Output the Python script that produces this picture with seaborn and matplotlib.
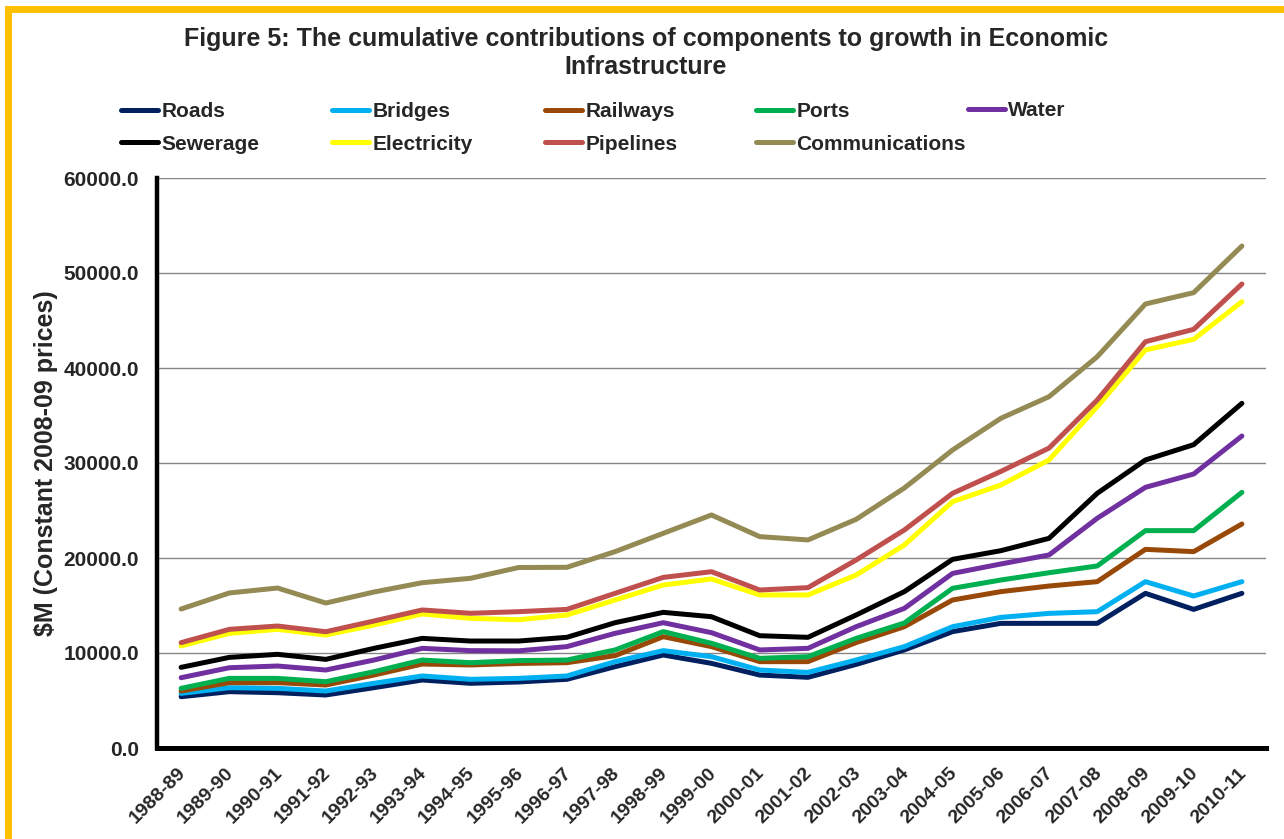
import numpy as np
import pandas as pd
import matplotlib
matplotlib.use("Agg")
import matplotlib.pyplot as plt
import matplotlib.transforms as mtransforms
import seaborn as sns
from matplotlib.patches import Rectangle
from matplotlib.ticker import FixedLocator, FuncFormatter

# ---- data ($M, constant 2008-09 prices, cumulative) ----
years = ["1988-89", "1989-90", "1990-91", "1991-92", "1992-93", "1993-94",
         "1994-95", "1995-96", "1996-97", "1997-98", "1998-99", "1999-00",
         "2000-01", "2001-02", "2002-03", "2003-04", "2004-05", "2005-06",
         "2006-07", "2007-08", "2008-09", "2009-10", "2010-11"]

roads = [5400, 5930, 5820, 5580, 6350, 7160, 6810, 6950, 7230, 8560, 9790, 8910,
         7680, 7440, 8800, 10320, 12250, 13120, 13120, 13120, 16280, 14590, 16280]
bridges = [5750, 6350, 6280, 6000, 6810, 7580, 7230, 7330, 7580, 9090, 10250, 9610,
           8210, 7960, 9260, 10670, 12770, 13750, 14170, 14350, 17510, 16000, 17510]
railways = [6000, 6880, 6880, 6630, 7680, 8840, 8740, 8900, 8980, 9720, 11720, 10670,
            9090, 9090, 11100, 12770, 15580, 16460, 17050, 17510, 20910, 20670, 23580]
ports = [6280, 7330, 7330, 6980, 8030, 9260, 8980, 9200, 9260, 10320, 12250, 11020,
         9440, 9610, 11540, 13160, 16810, 17680, 18450, 19160, 22880, 22880, 26910]
water = [7400, 8450, 8630, 8210, 9260, 10490, 10250, 10230, 10670, 12070, 13190, 12140,
         10320, 10490, 12770, 14700, 18380, 19370, 20320, 24180, 27440, 28840, 32840]
sewerage = [8490, 9540, 9860, 9330, 10490, 11540, 11260, 11260, 11650, 13190, 14280, 13820,
            11820, 11650, 14000, 16460, 19860, 20770, 22070, 26810, 30320, 31930, 36280]
electricity = [10740, 12070, 12490, 11890, 12950, 14110, 13650, 13500, 14000, 15580, 17160, 17790,
               16110, 16110, 18210, 21370, 25930, 27680, 30320, 35930, 41900, 43020, 46980]
pipelines = [11090, 12490, 12840, 12240, 13370, 14530, 14180, 14350, 14590, 16280, 17960, 18560,
             16630, 16880, 19790, 22950, 26810, 29110, 31570, 36630, 42770, 44070, 48840]
communications = [14630, 16320, 16840, 15260, 16420, 17400, 17860, 19000, 19020, 20670, 22600, 24530,
                  22250, 21900, 24070, 27370, 31370, 34700, 36980, 41190, 46740, 47930, 52840]

components = ["Roads", "Bridges", "Railways", "Ports", "Water",
              "Sewerage", "Electricity", "Pipelines", "Communications"]
series = [roads, bridges, railways, ports, water,
          sewerage, electricity, pipelines, communications]
colors = ["#002060", "#00B0F0", "#984807", "#00B050", "#7030A0",
          "#000000", "#FFFF00", "#C0504D", "#948A54"]

rows = []
for name, vals in zip(components, series):
    for i, v in enumerate(vals):
        rows.append({"idx": i, "year": years[i], "component": name, "value": v})
df = pd.DataFrame(rows)

# ---- styling ----
sns.set_style("white")
plt.rcParams["font.family"] = ["Liberation Sans", "DejaVu Sans"]
plt.rcParams["font.weight"] = "bold"

W, H = 1284, 839
fig = plt.figure(figsize=(W / 100, H / 100), dpi=100)
ax = fig.add_axes([157 / W, 1 - 748 / H, (1266 - 157) / W, (748 - 178) / H])

sns.lineplot(data=df, x="idx", y="value", hue="component", hue_order=components,
             palette=dict(zip(components, colors)), linewidth=3.6, legend=False,
             ax=ax, sort=False)
for ln in ax.lines:
    ln.set_solid_capstyle("round")
    ln.set_solid_joinstyle("round")

ax.set_xlim(-0.5, len(years) - 0.5)
ax.set_ylim(0, 60000)

# y axis
ax.set_yticks(np.arange(0, 60001, 10000))
ax.yaxis.set_major_formatter(FuncFormatter(lambda v, p: f"{v:.1f}"))
ax.tick_params(axis="y", direction="out", length=7, width=3, labelsize=15, pad=6)
ax.yaxis.grid(True, color="#868686", linewidth=1.0)
ax.set_axisbelow(True)

# x axis: labels at category centres, tick marks at category boundaries
ax.set_xticks(range(len(years)))
ax.set_xticklabels(years, rotation=45, ha="right", va="top", rotation_mode="anchor",
                   fontsize=14, fontweight="bold")
ax.tick_params(axis="x", which="major", length=0, pad=12)
shift = mtransforms.ScaledTranslation(-4 / 100, 0, fig.dpi_scale_trans)
for lab in ax.get_xticklabels():
    lab.set_transform(lab.get_transform() + shift)
ax.xaxis.set_minor_locator(FixedLocator(np.arange(-0.5, len(years), 1.0)))
ax.tick_params(axis="x", which="minor", direction="out", length=6, width=3)
for lab in ax.get_yticklabels():
    lab.set_fontweight("bold")

for s in ["top", "right"]:
    ax.spines[s].set_visible(False)
ax.spines["left"].set_linewidth(3.2)
ax.spines["bottom"].set_linewidth(3.6)
ax.spines["left"].set_color("black")
ax.spines["bottom"].set_color("black")
ax.set_xlabel("")
ax.set_ylabel("")

fig.text(46 / W, 1 - 463 / H, "$M (Constant 2008-09 prices)", rotation=90,
         ha="center", va="center", fontsize=18, fontweight="bold")

fig.text(646 / W, 1 - 53 / H,
         "Figure 5: The cumulative contributions of components to growth in Economic\nInfrastructure",
         ha="center", va="center", fontsize=18, fontweight="bold", linespacing=1.22,
         multialignment="center")

# legend laid out in five columns of two entries
handles = ax.lines
col_x = [121, 332, 545, 756, 968]
for j, cx in enumerate(col_x):
    idxs = [k for k in (j, j + 5) if k < len(components)]
    hs = [handles[k] for k in idxs]
    ls = [components[k] for k in idxs]
    yc = 128 if len(idxs) == 2 else 111
    leg = fig.legend(hs, ls, loc="center left", bbox_to_anchor=(cx / W, 1 - yc / H),
                     frameon=False, borderpad=0, borderaxespad=0, handlelength=1.78,
                     handletextpad=0.15, labelspacing=0.64,
                     prop={"size": 15, "weight": "bold"})
    for lh in leg.get_lines():
        lh.set_linewidth(3.6)
        lh.set_solid_capstyle("round")

# outer frame
fig.patches.append(Rectangle((7.5 / W, -0.05), (1287 - 7.5) / W, 1 - 8.5 / H + 0.05,
                             transform=fig.transFigure, fill=False,
                             edgecolor="#FFC000", linewidth=5, zorder=10))

fig.savefig("out.png", dpi=100, facecolor="white")
